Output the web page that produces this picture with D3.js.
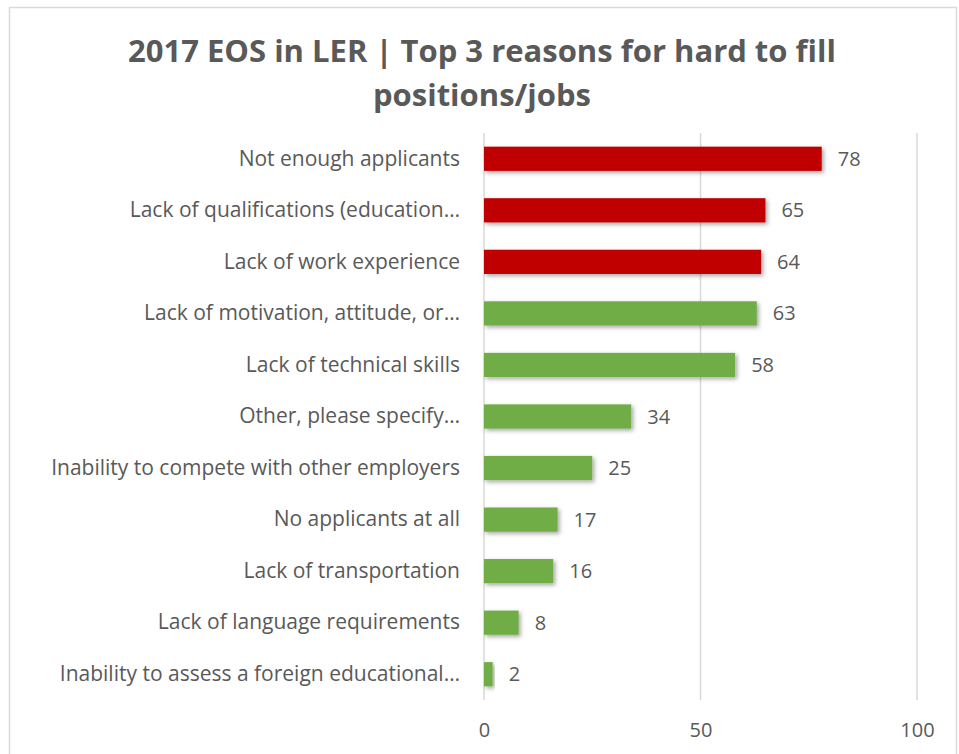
<!DOCTYPE html>
<html>
<head>
<meta charset="utf-8">
<script src="https://cdn.jsdelivr.net/npm/d3@7"></script>
<style>
  html, body { margin: 0; padding: 0; background: #ffffff; }
  svg { display: block; }
  text { font-family: "Open Sans", Lato, sans-serif; fill: #595959; }
</style>
</head>
<body>
<svg id="chart" width="959" height="754"></svg>
<script>
// Reasons, in display order (top to bottom)
const categories = [
  "Not enough applicants",
  "Lack of qualifications (education…",
  "Lack of work experience",
  "Lack of motivation, attitude, or…",
  "Lack of technical skills",
  "Other, please specify…",
  "Inability to compete with other employers",
  "No applicants at all",
  "Lack of transportation",
  "Lack of language requirements",
  "Inability to assess a foreign educational…"
];
const values = [78, 65, 64, 63, 58, 34, 25, 17, 16, 8, 2];
const topCount = 3;               // the top 3 reasons are highlighted
const xTicks = [0, 50, 100];
const titleLines = ["2017 EOS in LER | Top 3 reasons for hard to fill", "positions/jobs"];

const svg = d3.select("#chart");
const plot = { left: 484, right: 917, top: 133, bottom: 700 };
const FONT = "'Open Sans', Lato, sans-serif";

// chart frame
svg.append("rect")
  .attr("x", 9.5).attr("y", 7.5)
  .attr("width", 947).attr("height", 760)
  .attr("fill", "#fff").attr("stroke", "#d9d9d9").attr("stroke-width", 1.5);

// soft drop shadow for bars
const defs = svg.append("defs");
const f = defs.append("filter").attr("id", "shadow")
  .attr("x", "-20%").attr("y", "-30%").attr("width", "140%").attr("height", "180%");
f.append("feDropShadow").attr("dx", 2).attr("dy", 2).attr("stdDeviation", 2)
  .attr("flood-color", "#000").attr("flood-opacity", 0.35);

const x = d3.scaleLinear().domain([0, 100]).range([plot.left, plot.right]);
const y = d3.scaleBand().domain(categories).range([plot.top, plot.bottom]).paddingInner(0.53).paddingOuter(0.265);

// title
svg.append("g").selectAll("text").data(titleLines).join("text")
  .attr("x", 482).attr("y", (d, i) => 62 + i * 44)
  .attr("text-anchor", "middle")
  .style("font-size", "31px").style("font-weight", "bold")
  .text(d => d);

// gridlines
svg.append("g").selectAll("line").data(xTicks).join("line")
  .attr("x1", d => x(d)).attr("x2", d => x(d))
  .attr("y1", plot.top).attr("y2", plot.bottom)
  .attr("stroke", "#d9d9d9").attr("stroke-width", 1.5);

// x axis tick labels
const xAxis = d3.axisBottom(x).tickValues(xTicks).tickSize(0).tickPadding(0);
const gx = svg.append("g").attr("transform", `translate(0,${plot.bottom + 23})`).call(xAxis);
gx.select(".domain").remove();
gx.selectAll("text").style("font-size", "20px").style("fill", "#595959").style("font-family", FONT);

// y axis category labels
const yAxis = d3.axisLeft(y).tickSize(0).tickPadding(24);
const gy = svg.append("g").attr("transform", `translate(${plot.left},0)`).call(yAxis);
gy.select(".domain").remove();
gy.selectAll("text").style("font-size", "21px").style("fill", "#595959").style("font-family", FONT);

// bars
const rows = categories.map((c, i) => ({ c, v: values[i], top: i < topCount }));
svg.append("g").selectAll("rect").data(rows).join("rect")
  .attr("x", x(0)).attr("y", d => y(d.c))
  .attr("width", d => x(d.v) - x(0)).attr("height", y.bandwidth())
  .attr("fill", d => d.top ? "#C00000" : "#70AD47")
  .attr("filter", "url(#shadow)");

// value labels
svg.append("g").selectAll("text").data(rows).join("text")
  .attr("x", d => x(d.v) + 16).attr("y", d => y(d.c) + y.bandwidth() / 2)
  .attr("dy", "0.35em")
  .style("font-size", "20px")
  .text(d => d.v);
</script>
</body>
</html>
